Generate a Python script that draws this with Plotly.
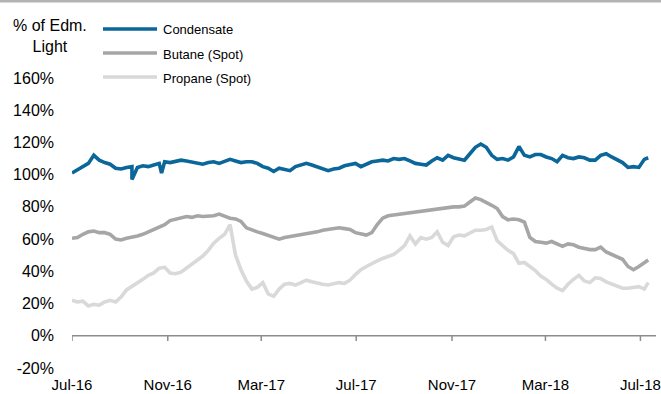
import pandas as pd
import plotly.graph_objects as go

# Weekly observations, July 2016 - July 2018 (last point 11 Jul 2018)
dates = list(pd.date_range("2016-07-01", "2018-07-06", freq="7D")) + [pd.Timestamp("2018-07-11")]

condensate = [
    101, 103, 105.5, 107, 112, 109, 107.5, 106.5, 104, 103.5,
    104.5, 105, 104.5, 105.5, 105, 106, 107, 108, 107.5, 108,
    109, 108.5, 108, 107.5, 106.5, 107.5, 108, 107, 108, 109.5,
    108.5, 107.5, 108, 108, 107, 105, 104, 102, 104, 103,
    102.5, 105, 106, 107, 106, 105, 103.5, 102.5, 103.5, 104,
    105.5, 106, 107, 105, 106.5, 108, 108.5, 109, 108.5, 110,
    109.5, 110, 108.5, 107, 106.5, 106, 108.5, 110.5, 109, 112,
    110.5, 110, 109, 113, 117, 119, 117, 112, 109.5, 110,
    109, 111, 117.5, 112, 111, 112.5, 112.5, 111, 110, 108,
    112, 110.5, 110, 111, 110.5, 109, 109, 112, 113, 111,
    109.5, 107.5, 104.5, 105, 104.5, 109.5, 110.5,
]
# single-day dips in the condensate series
condensate_dip_dates = ["2016-09-16", "2016-10-24"]
condensate_dip_values = [97, 101]

butane = [
    60.5, 61, 63, 64.5, 65, 64, 64, 63, 60, 59.5,
    60.5, 61, 62, 63, 64.5, 66, 67.5, 69, 71.5, 72.5,
    73.5, 74, 73.5, 74.5, 74, 74, 74.5, 75.5, 74, 73,
    72.5, 71, 67, 65.5, 64.5, 63.5, 62.5, 61, 60, 61,
    61.5, 62.5, 63, 63.5, 64, 64.5, 65.5, 66, 66.5, 67,
    66.5, 66, 64, 63.5, 62.5, 64, 69, 73, 74.5, 75,
    75.5, 76, 76.5, 77, 77.5, 78, 78.5, 79, 79, 79.5,
    80, 80, 80.5, 83, 85.5, 84.5, 83, 81, 79, 74,
    72, 72.5, 72, 70.5, 61, 58.5, 58, 57.5, 58.5, 57,
    55.5, 57, 56.5, 55, 54, 53.5, 53.5, 55, 52, 50.5,
    49.5, 47.5, 43, 41, 43, 45, 47,
]

propane = [
    22, 21, 21.5, 18.5, 19.5, 19, 21, 22, 21, 24,
    28.5, 30.5, 32.5, 35, 37.5, 39, 42, 42.5, 39, 38.5,
    39.5, 42, 45, 47, 49.5, 53, 57.5, 60.5, 63, 69,
    50, 41, 34, 29, 30, 33, 26, 24.5, 29, 32,
    32.5, 31.5, 33, 34.5, 33.5, 32.5, 32, 31.5, 32.5, 33,
    32.5, 34.5, 38, 41, 43, 45, 46.5, 48, 49, 50.5,
    53, 56, 62, 57, 61, 60, 61, 64.5, 58, 56,
    61.5, 62.5, 62, 64, 65.5, 65.5, 66, 67.5, 59, 56,
    53, 51, 45, 45.5, 43, 40.5, 37, 35, 32, 29.5,
    28, 32, 35, 37.5, 34, 33, 36, 35.5, 33.5, 32,
    30.5, 29.5, 29.5, 30, 30.5, 29, 33,
]

series_names = ["Condensate", "Butane (Spot)", "Propane (Spot)"]
series_colors = ["#0b6699", "#a6a6a6", "#d9d9d9"]

y_ticks = [-20, 0, 20, 40, 60, 80, 100, 120, 140, 160]
y_tick_text = ["-20%", "0%", "20%", "40%", "60%", "80%", "100%", "120%", "140%", "160%"]
x_ticks = ["2016-07-01", "2016-11-01", "2017-03-01", "2017-07-01",
           "2017-11-01", "2018-03-01", "2018-07-01"]
x_tick_text = ["Jul-16", "Nov-16", "Mar-17", "Jul-17", "Nov-17", "Mar-18", "Jul-18"]

# merge the condensate dips into its weekly series
cond = pd.Series(condensate, index=pd.DatetimeIndex(dates))
cond = pd.concat([cond, pd.Series(condensate_dip_values,
                                  index=pd.DatetimeIndex(condensate_dip_dates))]).sort_index()

FONT = "Liberation Sans, Arial, sans-serif"
W, H = 661, 394
ML, MR, MT, MB = 72, 5, 78, 26
PW, PH = W - ML - MR, H - MT - MB


def px_x(px):
    return (px - ML) / PW


def px_y(py):
    return (H - MB - py) / PH


fig = go.Figure()
plot_data = [
    (propane, dates, 2),
    (butane, dates, 1),
    (list(cond.values), list(cond.index), 0),
]
for values, xs, k in plot_data:
    fig.add_trace(go.Scatter(
        x=xs, y=values, mode="lines", name=series_names[k],
        line=dict(color=series_colors[k], width=3.6),
        showlegend=False, hoverinfo="x+y",
    ))

shapes = []
# horizontal axis drawn along the 0% level with downward ticks
shapes.append(dict(type="line", xref="x", yref="y",
                   x0="2016-07-01", x1="2018-07-21", y0=0, y1=0,
                   line=dict(color="#8c8c8c", width=1.5)))
for t in x_ticks:
    shapes.append(dict(type="line", xref="x", yref="y", x0=t, x1=t, y0=0, y1=-3.2,
                       line=dict(color="#8c8c8c", width=1.5)))
# grey rule across the top of the figure
shapes.append(dict(type="line", xref="paper", yref="paper",
                   x0=px_x(0), x1=px_x(W), y0=px_y(1), y1=px_y(1),
                   line=dict(color="#b3b3b3", width=3)))

# legend: line swatches with labels
annotations = []
legend_rows = [29, 53, 77]
for k, row in enumerate(legend_rows):
    shapes.append(dict(type="line", xref="paper", yref="paper",
                       x0=px_x(103), x1=px_x(157), y0=px_y(row), y1=px_y(row),
                       line=dict(color=series_colors[k], width=3.6)))
    annotations.append(dict(xref="paper", yref="paper", x=px_x(161), y=px_y(row + 1),
                            text=series_names[k], showarrow=False,
                            xanchor="left", yanchor="middle",
                            font=dict(family=FONT, size=13, color="#000000")))

annotations.append(dict(xref="paper", yref="paper", x=px_x(50), y=px_y(36),
                        text="% of Edm.<br>Light", showarrow=False, align="center",
                        xanchor="center", yanchor="middle",
                        font=dict(family=FONT, size=16, color="#000000")))

fig.update_layout(
    width=W, height=H,
    margin=dict(l=ML, r=MR, t=MT, b=MB, pad=0, autoexpand=False),
    paper_bgcolor="white", plot_bgcolor="white",
    font=dict(family=FONT, size=16, color="#000000"),
    shapes=shapes, annotations=annotations,
    xaxis=dict(
        type="date", range=["2016-07-01", "2018-07-21"],
        tickvals=x_ticks, ticktext=x_tick_text,
        showgrid=False, zeroline=False, showline=False, ticks="",
        ticklabelstandoff=6, ticklabeloverflow="allow", automargin=False,
        tickfont=dict(family=FONT, size=15, color="#000000"),
    ),
    yaxis=dict(
        range=[-20, 160], tickvals=y_ticks, ticktext=y_tick_text,
        showgrid=False, zeroline=False, showline=False, ticks="",
        ticklabelstandoff=17, automargin=False,
        tickfont=dict(family=FONT, size=16, color="#000000"),
    ),
    hovermode="closest",
)

fig.write_html("out.html")
